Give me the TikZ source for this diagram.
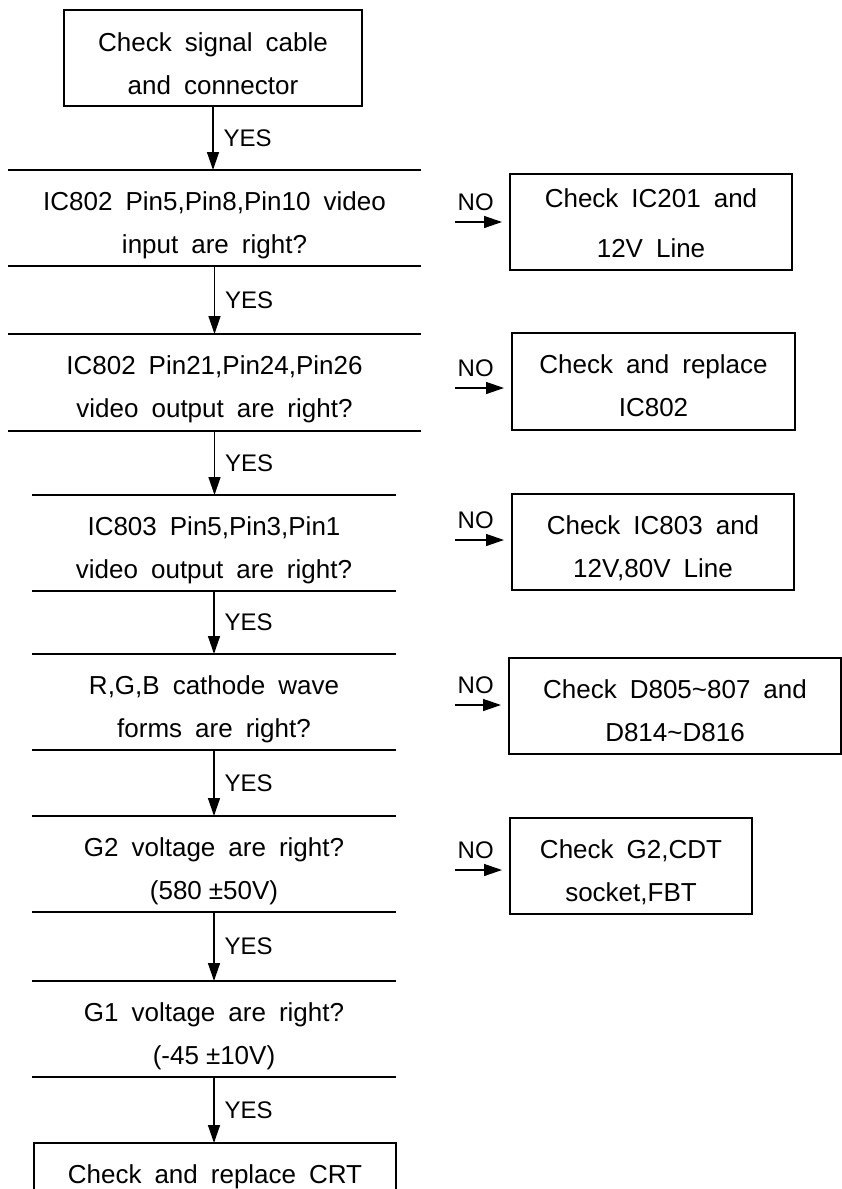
\documentclass[tikz,border=0pt]{standalone}
\usepackage{fontspec}
\setmainfont{Liberation Sans}[WordSpace=1.8]
\usetikzlibrary{arrows.meta}

\begin{document}
\begin{tikzpicture}[
  x=1pt,y=-1pt,
  box/.style={draw,line width=1.4pt,minimum width=298pt,minimum height=96pt,
              align=center,inner sep=0pt,outer sep=0pt,text height=70pt,text depth=0pt,
              font=\fontsize{26}{43}\selectfont},
  dec/.style={minimum width=364pt,minimum height=96pt,align=center,
              inner sep=0pt,outer sep=0pt,text height=70pt,text depth=0pt,
              font=\fontsize{26}{43}\selectfont},
  fix/.style={box,minimum width=282pt},
  arr/.style={-{Triangle[length=18pt,width=12pt]},line width=1.4pt},
  yes/.style={anchor=west,inner sep=0pt,xshift=10pt,font=\fontsize{24}{24}\selectfont},
  nolbl/.style={anchor=south west,inner sep=0pt,xshift=2pt,yshift=11pt,
                font=\fontsize{24}{24}\selectfont}
]
\useasboundingbox (0,0) rectangle (842,1189);
\clip (0,0) rectangle (842,1189);
% main column
\node[box,text height=72pt] (cable) at (213,58) {Check signal cable\\and connector};
\node[dec,minimum width=413pt] (pin8) at (214.5,218) {IC802 Pin5,Pin8,Pin10 video\\input are right?};
\node[dec,minimum width=413pt,minimum height=97pt] (pin24) at (214.5,382.5) {IC802 Pin21,Pin24,Pin26\\video output are right?};
\node[dec] (pin3) at (214,543) {IC803 Pin5,Pin3,Pin1\\video output are right?};
\node[dec] (wave) at (214,702) {R,G,B cathode wave\\forms are right?};
\node[dec] (gtwo) at (214,864) {G2 voltage are right?\\(580\hspace{7pt}\textpm50V)};
\node[dec] (gone) at (214,1029) {G1 voltage are right?\\(-45\hspace{7pt}\textpm10V)};
\node[box,minimum width=362pt,minimum height=54pt,text height=26pt] (crt) at (215,1170) {Check and replace CRT};
\foreach \n in {pin8,pin24,pin3,wave,gtwo,gone}
  \draw[line width=1.4pt] (\n.north west) -- (\n.north east) (\n.south west) -- (\n.south east);

% repair boxes
\node[fix] (ic201) at (651,222) {Check IC201 and\\[7pt]12V Line};
\node[fix,minimum width=283pt,minimum height=97pt] (rep802) at (653.5,381.5) {Check and replace\\IC802};
\node[fix] (ic803) at (653,542) {Check IC803 and\\12V,80V Line};
\node[fix,minimum width=332pt] (diode) at (675,706) {Check D805\textasciitilde807 and\\D814\textasciitilde D816};
\node[fix,minimum width=242pt] (fbt) at (631,866) {Check G2,CDT\\socket,FBT};

\coordinate (no1) at (455,222);
\coordinate (no2) at (455,388);
\coordinate (no3) at (455,540);
\coordinate (no4) at (455,705);
\coordinate (no5) at (455,870);

% YES arrows
\draw[arr] (cable.south) -- (cable.south |- pin8.north) node[midway,yes]{YES};
\draw[arr] (pin8.south) -- (pin8.south |- pin24.north) node[midway,yes]{YES};
\draw[arr] (pin24.south) -- (pin24.south |- pin3.north) node[midway,yes]{YES};
\draw[arr] (pin3.south) -- (pin3.south |- wave.north) node[midway,yes]{YES};
\draw[arr] (wave.south) -- (wave.south |- gtwo.north) node[midway,yes]{YES};
\draw[arr] (gtwo.south) -- (gtwo.south |- gone.north) node[midway,yes]{YES};
\draw[arr] (gone.south) -- (gone.south |- crt.north) node[midway,yes]{YES};

% NO arrows
\draw[arr,shorten >=8pt] (no1) -- (no1 -| ic201.west) node[pos=0,nolbl]{NO};
\draw[arr,shorten >=8pt] (no2) -- (no2 -| rep802.west) node[pos=0,nolbl]{NO};
\draw[arr,shorten >=8pt] (no3) -- (no3 -| ic803.west) node[pos=0,nolbl]{NO};
\draw[arr,shorten >=8pt] (no4) -- (no4 -| diode.west) node[pos=0,nolbl]{NO};
\draw[arr,shorten >=8pt] (no5) -- (no5 -| fbt.west) node[pos=0,nolbl]{NO};
\end{tikzpicture}
\end{document}
